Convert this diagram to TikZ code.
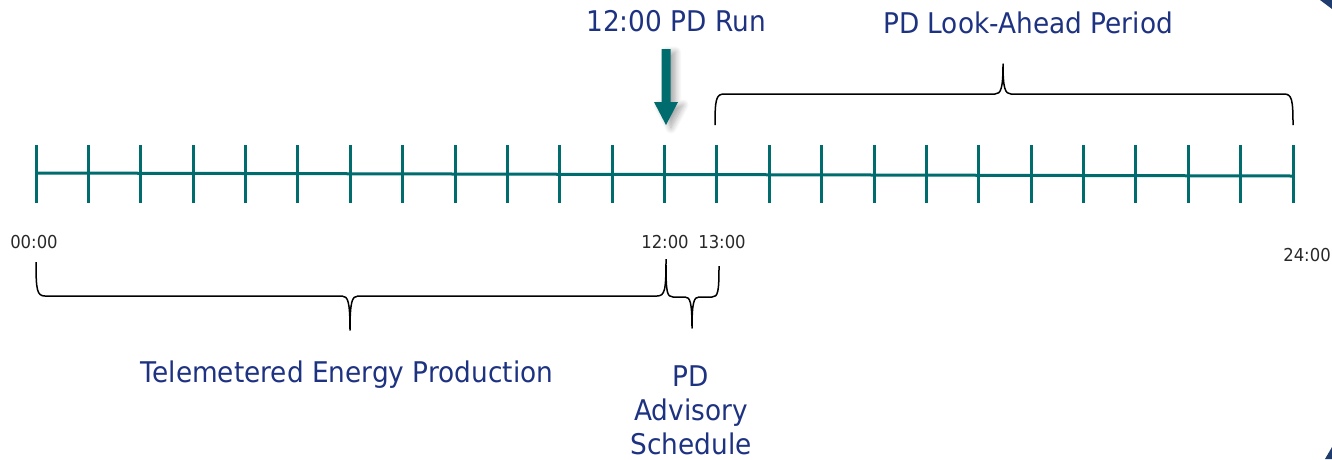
\documentclass[tikz,border=0pt]{standalone}
\usepackage{fontspec}
\setmainfont{DejaVu Sans}[FakeStretch=0.925]
\usetikzlibrary{shadows.blur}
\definecolor{tealline}{RGB}{0,108,110}
\definecolor{navytext}{RGB}{30,50,130}
\definecolor{labeltext}{RGB}{40,40,40}
\definecolor{cornerblue}{RGB}{31,60,110}
\tikzset{
  bigtext/.style={inner sep=0pt, text=navytext, font=\fontsize{28.5}{34}\selectfont, align=center},
  timetext/.style={inner sep=0pt, text=labeltext, font=\fontsize{17.8}{22}\selectfont},
  tickline/.style={draw=tealline, line width=3pt},
  bracepath/.style={draw=black, line width=1.5pt, line join=round}
}
\begin{document}
\begin{tikzpicture}[x=1pt,y=-1pt]
\useasboundingbox (0,0) rectangle (1332,459);
% corner fragments
\fill[cornerblue] (1320,0) -- (1332,0) -- (1332,9) -- cycle;
\fill[cornerblue] (1325,459) -- (1332,447) -- (1332,459) -- cycle;
% axis
\coordinate (axL) at (36,173);
\coordinate (axR) at (1293,176);
\draw[tickline] (axL) -- (axR);
\foreach \i in {0,...,24}{
  \pgfmathsetmacro{\xx}{36+\i*52.375}
  \draw[tickline] (\xx,145) -- (\xx,203);
}
% arrow
\fill[tealline, blur shadow={shadow xshift=5pt, shadow yshift=-3pt, shadow blur steps=10, shadow blur radius=6pt, shadow opacity=35}]
  (661.5,49) -- (670.5,49) -- (670.5,102) -- (678,102) -- (666,125) -- (654,102) -- (661.5,102) -- cycle;
% texts
\node[bigtext] (run) at (676,21) {12:00 PD Run};
\node[bigtext] (look) at (1028,23) {PD Look-Ahead Period};
\node[bigtext] (tele) at (347,375) {Telemetered Energy Production};
\node[bigtext] (adv) at (691,410) {PD\\Advisory\\Schedule};
\node[timetext] (t0) at (34,242) {00:00};
\node[timetext] (t12) at (665,242) {12:00};
\node[timetext] (t13) at (722,242) {13:00};
\node[timetext] (t24) at (1307,255) {24:00};
% braces
\draw[bracepath] (715,125) .. controls (715,100) and (716,94) .. (724,94) -- (995,94)
  .. controls (1001,94) and (1003,88) .. (1003,64)
  .. controls (1003,88) and (1005,94) .. (1011,94) -- (1284,94)
  .. controls (1292,94) and (1293,100) .. (1293,125);
\draw[bracepath] (36,262) .. controls (36,290) and (37,296) .. (45,296) -- (342,296)
  .. controls (348,296) and (350,302) .. (350,330)
  .. controls (350,302) and (352,296) .. (358,296) -- (657,296)
  .. controls (665,296) and (666,290) .. (666,259);
\draw[bracepath] (666,265) .. controls (666,292) and (667,297) .. (673,297) -- (685,297)
  .. controls (690,297) and (692,302) .. (692,328)
  .. controls (692,302) and (694,297) .. (699,297) -- (712,297)
  .. controls (718,297) and (719,292) .. (719,266);
\end{tikzpicture}
\end{document}
